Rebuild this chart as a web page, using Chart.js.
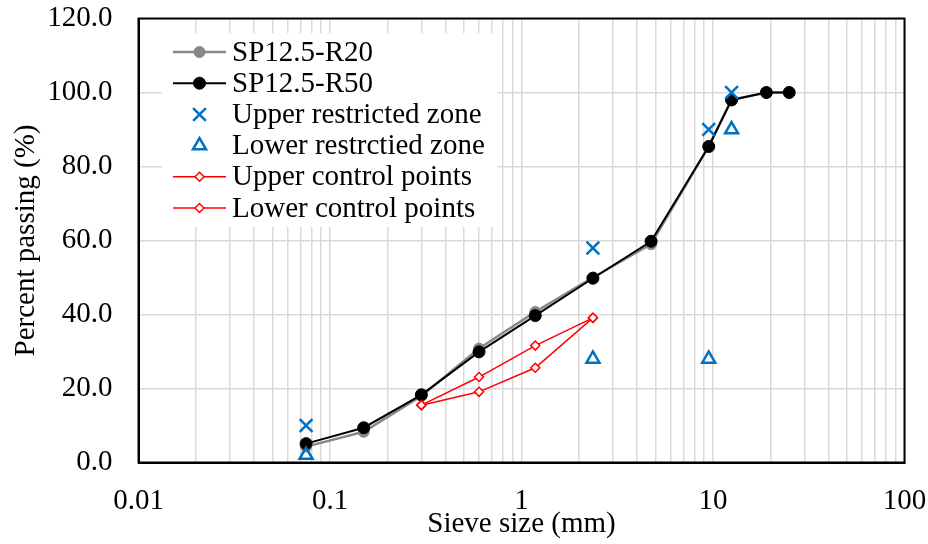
<!DOCTYPE html>
<html>
<head>
<meta charset="utf-8">
<script src="https://cdn.jsdelivr.net/npm/chart.js@4/dist/chart.umd.min.js"></script>
<style>
  html, body { margin: 0; padding: 0; background: #fff; }
  #wrap { width: 928px; height: 544px; }
</style>
</head>
<body>
<div id="wrap"><canvas id="myChart" width="928" height="544"></canvas></div>
<script>
// ========================================
// Data
// ========================================
const sieveSizes = [0.075, 0.15, 0.3, 0.6, 1.18, 2.36, 4.75, 9.5, 12.5, 19, 25];
const r20Passing = [4.3, 8.3, 18.0, 30.8, 40.7, 50.0, 59.0, 85.5, 98.0, 100.0, 100.0];
const r50Passing = [5.1, 9.4, 18.3, 29.9, 39.7, 49.8, 59.8, 85.4, 98.0, 100.0, 100.0];

const restrictedSizes = [0.075, 2.36, 9.5, 12.5];
const upperRestricted = [10, 58, 90, 100];
const lowerRestricted = [2, 28, 28, 90];

const controlSizes = [0.3, 0.6, 1.18, 2.36];
const upperControl = [15.5, 23.1, 31.6, 39.1];
const lowerControl = [15.5, 19.1, 25.6, 39.1];

const xDecades = [0.01, 0.1, 1, 10, 100];
const xDecadeLabels = ['0.01', '0.1', '1', '10', '100'];
const xMantissas = [1, 2, 3, 4, 5, 6, 7, 8, 9];

const pts = (xs, ys) => xs.map((x, i) => ({ x: x, y: ys[i] }));

const FONT = "'Liberation Serif', 'Times New Roman', serif";
const FS = 29;
Chart.defaults.font.family = FONT;
Chart.defaults.color = '#000';

const GRID = '#d9d9d9';
const BLUE = '#0070c0';
const RED = '#ff0000';

// ========================================
// Legend inside the plot + outer box
// ========================================
const boxPlugin = {
  id: 'boxPlugin',
  afterDraw(chart) {
    const { ctx, chartArea: a } = chart;
    ctx.save();
    ctx.strokeStyle = '#000';
    ctx.lineWidth = 2;
    ctx.strokeRect(a.left, a.top, a.right - a.left, a.bottom - a.top);
    ctx.restore();
  }
};

const legendPlugin = {
  id: 'innerLegend',
  afterDatasetsDraw(chart) {
    const ctx = chart.ctx;
    ctx.save();
    ctx.fillStyle = '#fff';
    ctx.fillRect(162, 33, 335, 194);

    const rowY = 52, rowH = 31.2;
    const lineX0 = 173, lineX1 = 226, markX = 199.5, textX = 232;
    ctx.font = FS + 'px ' + FONT;
    ctx.textBaseline = 'middle';
    ctx.textAlign = 'left';

    chart.data.datasets.forEach((ds, i) => {
      const y = rowY + i * rowH;
      if (ds.showLine !== false) {
        ctx.strokeStyle = ds.borderColor;
        ctx.lineWidth = ds.borderWidth;
        ctx.beginPath();
        ctx.moveTo(lineX0, y);
        ctx.lineTo(lineX1, y);
        ctx.stroke();
      }
      ctx.fillStyle = ds.pointBackgroundColor;
      ctx.strokeStyle = ds.pointBorderColor;
      ctx.lineWidth = ds.pointBorderWidth;
      Chart.helpers.drawPoint(ctx, {
        pointStyle: ds.pointStyle,
        radius: ds.pointRadius,
        rotation: 0,
        borderWidth: ds.pointBorderWidth
      }, markX, y);
      ctx.fillStyle = '#000';
      ctx.fillText(ds.label, textX, y + 1);
    });
    ctx.restore();
  }
};

// ========================================
// Chart
// ========================================
const ctx = document.getElementById('myChart');
new Chart(ctx, {
  type: 'line',
  data: {
    datasets: [
      {
        label: 'SP12.5-R20',
        data: pts(sieveSizes, r20Passing),
        borderColor: '#888888',
        borderWidth: 2.5,
        pointStyle: 'circle',
        pointRadius: 5.5,
        pointBackgroundColor: '#888888',
        pointBorderColor: '#888888',
        pointBorderWidth: 1,
        order: 5
      },
      {
        label: 'SP12.5-R50',
        data: pts(sieveSizes, r50Passing),
        borderColor: '#000',
        borderWidth: 2,
        pointStyle: 'circle',
        pointRadius: 6,
        pointBackgroundColor: '#000',
        pointBorderColor: '#000',
        pointBorderWidth: 1,
        order: 4
      },
      {
        label: 'Upper restricted zone',
        data: pts(restrictedSizes, upperRestricted),
        showLine: false,
        borderColor: BLUE,
        borderWidth: 0,
        pointStyle: 'crossRot',
        pointRadius: 9,
        pointBackgroundColor: BLUE,
        pointBorderColor: BLUE,
        pointBorderWidth: 2.5,
        order: 1
      },
      {
        label: 'Lower restrctied zone',
        data: pts(restrictedSizes, lowerRestricted),
        showLine: false,
        borderColor: BLUE,
        borderWidth: 0,
        pointStyle: 'triangle',
        pointRadius: 7.5,
        pointBackgroundColor: 'rgba(255,255,255,0)',
        pointBorderColor: BLUE,
        pointBorderWidth: 2.5,
        order: 1
      },
      {
        label: 'Upper control points',
        data: pts(controlSizes, upperControl),
        borderColor: RED,
        borderWidth: 1.5,
        pointStyle: 'rectRot',
        pointRadius: 4.5,
        pointBackgroundColor: '#fff',
        pointBorderColor: RED,
        pointBorderWidth: 1.5,
        order: 2
      },
      {
        label: 'Lower control points',
        data: pts(controlSizes, lowerControl),
        borderColor: RED,
        borderWidth: 1.5,
        pointStyle: 'rectRot',
        pointRadius: 4.5,
        pointBackgroundColor: '#fff',
        pointBorderColor: RED,
        pointBorderWidth: 1.5,
        order: 2
      }
    ]
  },
  options: {
    responsive: false,
    animation: false,
    layout: { padding: { top: 18.5, right: 23.5, left: 0, bottom: 0 } },
    plugins: {
      legend: { display: false },
      tooltip: { enabled: false }
    },
    scales: {
      x: {
        type: 'logarithmic',
        min: 0.01,
        max: 100,
        afterBuildTicks: (scale) => {
          const ticks = [];
          xDecades.forEach(d => {
            if (d === 100) { ticks.push({ value: d }); return; }
            xMantissas.forEach(m => ticks.push({ value: d * m }));
          });
          scale.ticks = ticks;
        },
        afterFit: (scale) => {
          scale.height = 81.5;
          scale.paddingLeft = 0;
          scale.paddingRight = 0;
        },
        grid: { color: GRID, lineWidth: 1.5, drawTicks: false },
        border: { display: true, color: '#000', width: 2 },
        ticks: {
          autoSkip: false,
          maxRotation: 0,
          padding: 21,
          font: { size: FS },
          callback: (value) => {
            const i = xDecades.indexOf(value);
            return i >= 0 ? xDecadeLabels[i] : '';
          }
        },
        title: {
          display: true,
          text: 'Sieve size (mm)',
          font: { size: FS },
          padding: { top: 0, bottom: 2 }
        }
      },
      y: {
        min: 0,
        max: 120,
        afterFit: (scale) => {
          scale.width = 138.5;
          scale.paddingTop = 0;
          scale.paddingBottom = 0;
        },
        grid: { color: GRID, lineWidth: 1.5, drawTicks: false },
        border: { display: true, color: '#000', width: 2 },
        ticks: {
          stepSize: 20,
          padding: 26,
          font: { size: FS },
          callback: (v) => v.toFixed(1)
        },
        title: {
          display: true,
          text: 'Percent passing (%)',
          font: { size: FS },
          padding: { top: 9, bottom: 0 }
        }
      }
    }
  },
  plugins: [legendPlugin, boxPlugin]
});
</script>
</body>
</html>
